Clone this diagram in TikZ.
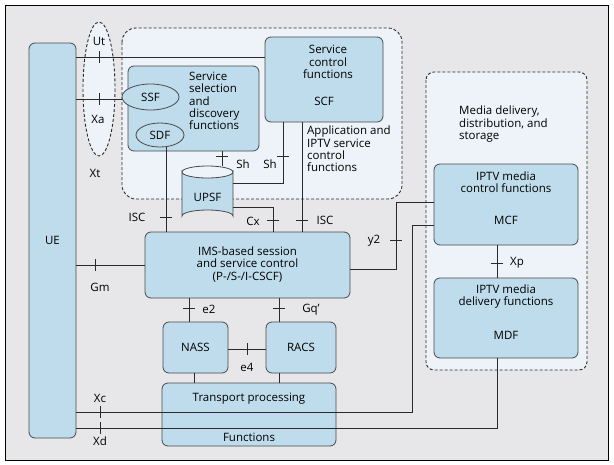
\documentclass[tikz,border=0pt]{standalone}
\usepackage{fontspec}
\setmainfont{Open Sans}
\usetikzlibrary{calc}
\definecolor{bgc}{HTML}{E7E7E9}
\definecolor{regc}{HTML}{EDF3F9}
\definecolor{boxf}{HTML}{BFDCEC}
\definecolor{boxl}{HTML}{4A4A4A}
\definecolor{lnc}{HTML}{2A2A2A}
\tikzset{
  box/.style={draw=boxl, fill=boxf, rounded corners=6pt, line width=0.8pt, inner sep=0pt},
  ell/.style={draw=boxl, fill=boxf, ellipse, line width=0.8pt, inner sep=0pt},
  region/.style={draw=lnc, fill=regc, dashed, dash pattern=on 3pt off 2pt, line width=0.9pt},
  conn/.style={draw=lnc, line width=0.8pt},
  lbl/.style={font=\fontsize{11.5}{12.3}\selectfont, inner sep=0pt, align=center, text=black},
  lbll/.style={lbl, align=left, anchor=north west},
  vtick/.pic={\draw[conn] (0,-6) -- (0,6);},
  htick/.pic={\draw[conn] (-6,0) -- (6,0);}
}
\usetikzlibrary{shapes.geometric}
\begin{document}
\begin{tikzpicture}[x=1pt,y=-1pt]
\useasboundingbox (0,0) rectangle (614,464);
% frame
\draw[fill=bgc, draw=black, line width=0.8pt] (5,5) rectangle (608,460);
% regions
\draw[region, rounded corners=14pt] (122,28) rectangle (402,199);
\draw[region, rounded corners=8pt] (426,72) rectangle (587,370);
\draw[conn, dashed, dash pattern=on 3pt off 2pt, line width=0.9pt, fill=regc] (99,89) ellipse [x radius=16, y radius=67];
% boxes
\node[box, minimum width=47, minimum height=395] (ue) at (52.5,240.5) {};
\node[box, minimum width=118, minimum height=85] (scf) at (324,79.5) {};
\node[box, minimum width=131, minimum height=85] (ssdf) at (193.5,108.5) {};
\node[ell, minimum width=57, minimum height=26] (ssf) at (150.5,97) {};
\node[ell, minimum width=48, minimum height=24] (sdf) at (160,135) {};
\node[box, minimum width=205, minimum height=66] (ims) at (247.5,265) {};
\node[box, minimum width=65, minimum height=51] (nass) at (195.5,347.5) {};
\node[box, minimum width=70, minimum height=51] (racs) at (301,347.5) {};
\node[box, minimum width=174, minimum height=63] (tp) at (249,414.5) {};
\node[box, minimum width=144, minimum height=81] (mcf) at (506,204.5) {};
\node[box, minimum width=144, minimum height=80] (mdf) at (506,318) {};
% UPSF cylinder
\node[inner sep=0, minimum width=51, minimum height=55] (upsf) at (207.5,194.5) {};
\draw[draw=boxl, fill=boxf, line width=0.8pt]
  (182,172) -- (182,216) arc[start angle=180, end angle=360, x radius=25.5, y radius=6] -- (233,172)
  arc[start angle=0, end angle=180, x radius=25.5, y radius=6] -- cycle;
\draw[draw=boxl, line width=0.8pt] (182,172) arc[start angle=180, end angle=360, x radius=25.5, y radius=6];
% texts in boxes
\node[lbl] at (ue) {UE};
\node[lbl] at (328,62) {Service\\control\\functions};
\node[lbl] at (324,101) {SCF};
\node[lbll] at (189,72) {Service\\selection\\and\\discovery\\functions};
\node[lbl] at (ssf) {SSF};
\node[lbl] at (sdf) {SDF};
\node[lbl] at (207.5,197) {UPSF};
\node[lbl] at (247.5,264.5) {IMS-based session\\and service control\\(P-/S-/I-CSCF)};
\node[lbl] at (nass) {NASS};
\node[lbl] at (racs) {RACS};
\node[lbl] at (249,399) {Transport processing};
\node[lbl] at (249,437) {Functions};
\node[lbl] at (506,182.5) {IPTV media\\control functions};
\node[lbl] at (506,220) {MCF};
\node[lbl] at (506,296.5) {IPTV media\\delivery functions};
\node[lbl] at (506,335) {MDF};
\node[lbll] at (307,126) {Application and\\IPTV service\\control\\functions};
\node[lbll] at (459,106) {Media delivery,\\distribution, and\\storage};
% tick coordinates
\coordinate (tUt) at (99,57);
\coordinate (tXa) at (99,99);
\coordinate (tSh1) at (222,156);
\coordinate (tSh2) at (283,156);
\coordinate (tISC1) at (166,217);
\coordinate (tCx) at (273,220);
\coordinate (tISC2) at (302,220);
\coordinate (tGm) at (95,265);
\coordinate (tY2) at (396,240);
\coordinate (tE2) at (189,308);
\coordinate (tGq) at (279,308);
\coordinate (tE4) at (247,349);
\coordinate (tXp) at (497,263);
\coordinate (tXc) at (100,412);
\coordinate (tXd) at (100,428);
\coordinate (upTop) at (222,166);
\coordinate (upSh) at (233,183);
\coordinate (upCx) at (233,207);
\coordinate (y2a) at (350,269);
\coordinate (y2b) at (396,202);
\coordinate (xcb) at (412,225);
\coordinate (rtp) at (279,373);
% connectors
\draw[conn] (ue.east |- tUt) -- (scf.west |- tUt);
\draw[conn] (ue.east |- tXa) -- (ssf.west |- tXa);
\draw[conn] (ssdf.south -| tSh1) -- (upTop);
\draw[conn] (scf.south -| tSh2) |- (upSh);
\draw[conn] (sdf.south -| tISC1) -- (ims.north -| tISC1);
\draw[conn] (upCx) -| (ims.north -| tCx);
\draw[conn] (scf.south -| tISC2) -- (ims.north -| tISC2);
\draw[conn] (ue.east |- tGm) -- (ims.west |- tGm);
\draw[conn] (y2a) -| (y2b) -- (mcf.west |- y2b);
\draw[conn] (ims.south -| tE2) -- (nass.north -| tE2);
\draw[conn] (ims.south -| tGq) -- (racs.north -| tGq);
\draw[conn] (nass.east |- tE4) -- (racs.west |- tE4);
\draw[conn] (nass.south -| 194,0) -- (tp.north -| 194,0);
\draw[conn] (rtp) -- (tp.north -| rtp);
\draw[conn] (mcf.south -| tXp) -- (mdf.north -| tXp);
\draw[conn] (ue.east |- tXc) -| (xcb) -- (mcf.west |- xcb);
\draw[conn] (ue.east |- tXd) -| (mdf.south -| tXp);
% ticks
\foreach \c in {tUt,tXa,tGm,tE4,tXc,tXd} \pic at (\c) {vtick};
\foreach \c in {tSh1,tSh2,tISC1,tCx,tISC2,tY2,tE2,tGq,tXp} \pic at (\c) {htick};
% labels
\node[lbl] at (99,41) {Ut};
\node[lbl] at (98,119) {Xa};
\node[lbl] at (95,173) {Xt};
\node[lbl] at (243,164) {Sh};
\node[lbl] at (270,164) {Sh};
\node[lbl] at (137,217) {ISC};
\node[lbl] at (253,221) {Cx};
\node[lbl] at (325,220) {ISC};
\node[lbl] at (100,287) {Gm};
\node[lbl] at (209,309) {e2};
\node[lbl] at (311,310) {Gq\textquoteright};
\node[lbl] at (247,367) {e4};
\node[lbl] at (374,241) {y2};
\node[lbl] at (517,263) {Xp};
\node[lbl] at (100,398) {Xc};
\node[lbl] at (100,441) {Xd};
\end{tikzpicture}
\end{document}
